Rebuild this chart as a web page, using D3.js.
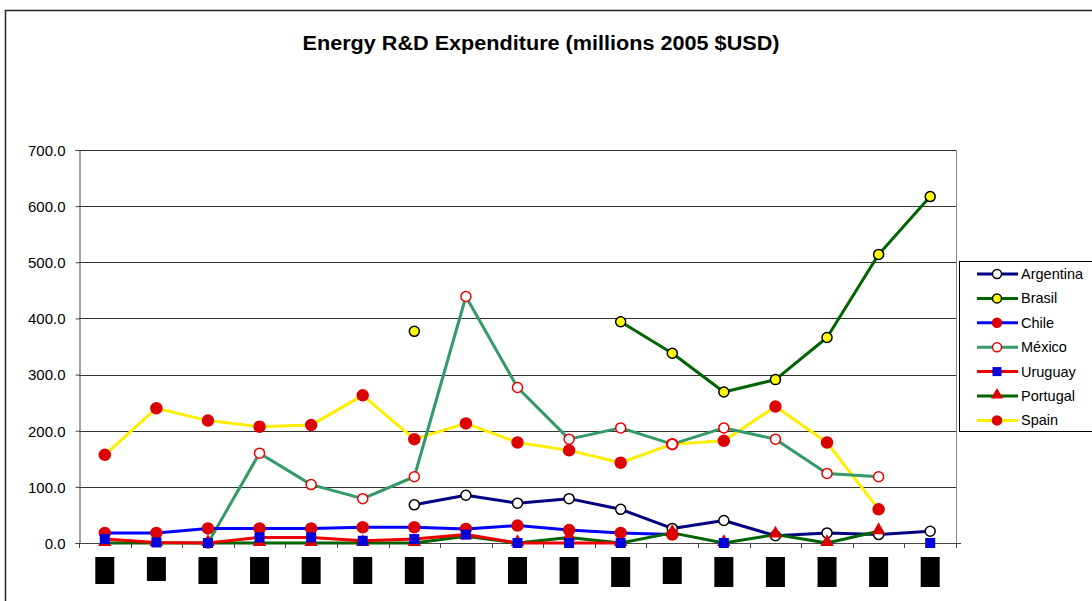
<!DOCTYPE html>
<html>
<head>
<meta charset="utf-8">
<script src="https://cdn.jsdelivr.net/npm/d3@7"></script>
<style>
  body { margin: 0; background: #fff; }
  text { font-family: "Liberation Sans", Arial, sans-serif; }
</style>
</head>
<body>
<div id="chart"></div>
<script>
// categories (x labels are blacked out in the source, so only boxes are drawn)
var categories = ["c1","c2","c3","c4","c5","c6","c7","c8","c9","c10","c11","c12","c13","c14","c15","c16","c17"];
var yTicks = [0, 100, 200, 300, 400, 500, 600, 700];

var argentina = [null,null,null,null,null,null,68,85,71,79,60,26,40,13,18,15,21];
var brasil    = [null,null,null,null,null,null,377,null,null,null,394,338,269,291,366,514,617];
var chile     = [18,18,26,26,26,28,28,25,31,23,18,15,null,null,null,null,null];
var mexico    = [null,null,0,160,104,79,118,439,277,185,205,176,205,185,124,118,null];
var uruguay   = [7,1,0,10,10,4,7,15,0,0,0,null,0,null,null,null,0];
var portugal  = [0,0,0,0,0,0,0,12,0,10,0,18,0,15,0,21,null];
var spain     = [157,240,218,207,210,263,185,213,179,165,143,176,182,243,179,60,null];

var series = [
  {name: "Argentina", values: argentina, line: "#000080", marker: "circle", fill: "#ffffff", stroke: "#000000"},
  {name: "Brasil",    values: brasil,    line: "#006400", marker: "circle", fill: "#ffff00", stroke: "#000000"},
  {name: "Chile",     values: chile,     line: "#0000ff", marker: "circle", fill: "#dd0000", stroke: "#dd0000"},
  {name: "México",    values: mexico,    line: "#339966", marker: "circle", fill: "#ffffff", stroke: "#ee0000"},
  {name: "Uruguay",   values: uruguay,   line: "#ee0000", marker: "square", fill: "#0000dd", stroke: "#0000dd"},
  {name: "Portugal",  values: portugal,  line: "#006400", marker: "triangle", fill: "#dd0000", stroke: "#dd0000"},
  {name: "Spain",     values: spain,     line: "#ffee00", marker: "circle", fill: "#dd0000", stroke: "#dd0000"}
];
// draw order in the picture: Spain under the others at the bottom
var drawOrder = ["Spain","México","Brasil","Argentina","Chile","Portugal","Uruguay"];

var width = 1092, height = 601;
var margin = {left: 79, right: 136, top: 150, bottom: 58};

var svg = d3.select("#chart").append("svg")
  .attr("width", width).attr("height", height);

// outer chart frame
svg.append("rect")
  .attr("x", 5.5).attr("y", 10.5)
  .attr("width", width + 10).attr("height", height + 10)
  .attr("fill", "none").attr("stroke", "#222").attr("stroke-width", 1.5);

var x = d3.scaleBand().domain(categories)
  .range([margin.left, width - margin.right]);
var y = d3.scaleLinear().domain([0, 700])
  .range([height - margin.bottom, margin.top]);

// title
svg.append("text")
  .attr("x", 541).attr("y", 50)
  .attr("text-anchor", "middle")
  .attr("font-size", "20px").attr("font-weight", "bold")
  .attr("textLength", 477).attr("lengthAdjust", "spacingAndGlyphs")
  .text("Energy R&D Expenditure (millions 2005 $USD)");

// gridlines
svg.append("g").selectAll("line")
  .data(yTicks.filter(function(d){ return d > 0; }))
  .enter().append("line")
    .attr("x1", margin.left).attr("x2", width - margin.right)
    .attr("y1", function(d){ return Math.round(y(d)) + 0.5; })
    .attr("y2", function(d){ return Math.round(y(d)) + 0.5; })
    .attr("stroke", "#333").attr("stroke-width", 1);

// right plot border
svg.append("line")
  .attr("x1", width - margin.right + 0.5).attr("x2", width - margin.right + 0.5)
  .attr("y1", margin.top).attr("y2", y(0))
  .attr("stroke", "#888");

// y axis
var yAxis = d3.axisLeft(y).tickValues(yTicks).tickSize(4).tickPadding(10)
  .tickFormat(d3.format(".1f"));
var gy = svg.append("g")
  .attr("transform", "translate(" + (margin.left + 0.5) + ",0)")
  .call(yAxis);
gy.select(".domain").attr("stroke", "#444");
gy.selectAll(".tick line").attr("stroke", "#444");
gy.selectAll(".tick text")
  .attr("font-size", "15px").attr("fill", "#000")
  .attr("font-family", "'Liberation Sans', Arial, sans-serif")
  .attr("dy", "0.36em");

// x axis: ticks between categories
var step = x.step();
var xLine = svg.append("g");
xLine.append("line")
  .attr("x1", margin.left).attr("x2", width - margin.right + 5)
  .attr("y1", Math.round(y(0)) + 0.5).attr("y2", Math.round(y(0)) + 0.5)
  .attr("stroke", "#444");
xLine.selectAll("line.tk")
  .data(d3.range(categories.length + 1))
  .enter().append("line").attr("class", "tk")
    .attr("x1", function(i){ return Math.round(margin.left + i * step) + 0.5; })
    .attr("x2", function(i){ return Math.round(margin.left + i * step) + 0.5; })
    .attr("y1", y(0)).attr("y2", y(0) + 5)
    .attr("stroke", "#444");

// blacked-out category labels
var boxH = {1: 24, 10: 30, 12: 30, 13: 30, 14: 30, 15: 30, 16: 30};
svg.append("g").selectAll("rect")
  .data(categories)
  .enter().append("rect")
    .attr("x", function(d){ return x(d) + x.bandwidth() / 2 - 9.5; })
    .attr("y", 557)
    .attr("width", 19)
    .attr("height", function(d, i){ return boxH[i] || 27; })
    .attr("fill", "#000");

var cx = function(i){ return x(categories[i]) + x.bandwidth() / 2; };

var line = d3.line()
  .defined(function(d){ return d != null; })
  .x(function(d, i){ return cx(i); })
  .y(function(d){ return y(d); });

function drawMarker(g, s, px, py, size) {
  if (s.marker === "circle") {
    g.append("circle").attr("cx", px).attr("cy", py).attr("r", size)
      .attr("fill", s.fill).attr("stroke", s.stroke).attr("stroke-width", 1.5);
  } else if (s.marker === "square") {
    g.append("rect").attr("x", px - size).attr("y", py - size)
      .attr("width", size * 2).attr("height", size * 2)
      .attr("fill", s.fill);
  } else {
    var sym = d3.symbol().type(d3.symbolTriangle).size(size * size * 3.2);
    g.append("path").attr("d", sym())
      .attr("transform", "translate(" + px + "," + (py - 1) + ")")
      .attr("fill", s.fill);
  }
}

var plot = svg.append("g");
drawOrder.forEach(function(name) {
  var s = series.find(function(d){ return d.name === name; });
  plot.append("path")
    .datum(s.values)
    .attr("d", line)
    .attr("fill", "none")
    .attr("stroke", s.line)
    .attr("stroke-width", 3)
    .attr("stroke-linejoin", "round");
});
drawOrder.forEach(function(name) {
  var s = series.find(function(d){ return d.name === name; });
  var g = plot.append("g");
  s.values.forEach(function(v, i) {
    if (v == null) return;
    var r = s.marker === "circle" ? (s.stroke === "#000000" ? 5 : 5.5) : 5;
    if (s.name === "México") r = 5;
    drawMarker(g, s, cx(i), y(v), r);
  });
});

// legend
var lg = svg.append("g");
lg.append("rect")
  .attr("x", 959.5).attr("y", 261.5)
  .attr("width", 140).attr("height", 170)
  .attr("fill", "#fff").attr("stroke", "#000");
series.forEach(function(s, i) {
  var ly = 274 + i * 24.4;
  lg.append("line")
    .attr("x1", 977).attr("x2", 1018)
    .attr("y1", ly).attr("y2", ly)
    .attr("stroke", s.line).attr("stroke-width", 3);
  drawMarker(lg, s, 997, ly, s.marker === "triangle" ? 4.5 : 4.5);
  lg.append("text")
    .attr("x", 1021).attr("y", ly + 5)
    .attr("font-size", "14.5px")
    .text(s.name);
});
</script>
</body>
</html>
